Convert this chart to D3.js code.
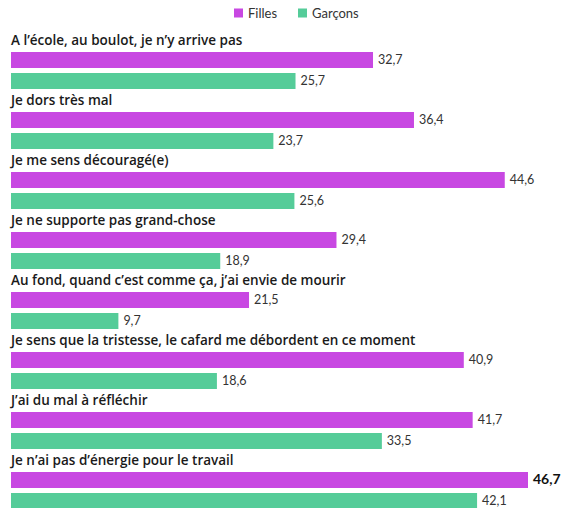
<!DOCTYPE html>
<html><head><meta charset="utf-8">
<script src="https://cdn.jsdelivr.net/npm/d3@7"></script>
<style>body{margin:0;background:#fff}svg{display:block}</style>
</head><body>
<svg id="c" width="563" height="508"></svg>
<script>
const categories = [
  "A l\u2019école, au boulot, je n\u2019y arrive pas",
  "Je dors très mal",
  "Je me sens découragé(e)",
  "Je ne supporte pas grand-chose",
  "Au fond, quand c\u2019est comme ça, j\u2019ai envie de mourir",
  "Je sens que la tristesse, le cafard me débordent en ce moment",
  "J\u2019ai du mal à réfléchir",
  "Je n\u2019ai pas d\u2019énergie pour le travail"
];
const filles = [32.7, 36.4, 44.6, 29.4, 21.5, 40.9, 41.7, 46.7];
const garcons = [25.7, 23.7, 25.6, 18.9, 9.7, 18.6, 33.5, 42.1];
const seriesNames = ["Filles", "Garçons"];
const colors = ["#c848e2", "#55cc99"];

const svg = d3.select("#c");
const fmt = v => d3.format(".1f")(v).replace(".", ",");

const x = d3.scaleLinear().domain([0, 46.7]).range([11, 528]);
const y = d3.scaleBand().domain(d3.range(categories.length)).range([40, 520]).paddingInner(0).paddingOuter(0);
const barH = 16;

// legend
const leg = svg.append("g").attr("font-family", "Lato, 'Open Sans', sans-serif").attr("font-size", 13).attr("fill", "#333");
const legX = [234, 298];
seriesNames.forEach((n, i) => {
  leg.append("rect").attr("x", legX[i]).attr("y", 8.5).attr("width", 9).attr("height", 9).attr("fill", colors[i]);
  leg.append("text").attr("x", legX[i] + 14).attr("y", 17.5).text(n);
});

const rows = svg.selectAll("g.row").data(categories).join("g").attr("class", "row")
  .attr("transform", (d, i) => `translate(0,${y(i)})`);

rows.append("text").attr("x", 11).attr("y", 4.8)
  .attr("font-family", "'Open Sans', sans-serif").attr("font-weight", 600)
  .attr("font-size", 13.5).attr("fill", "#1a1a1a").text(d => d);

[filles, garcons].forEach((vals, s) => {
  const off = s === 0 ? 12 : 33;
  rows.append("rect").attr("x", x(0)).attr("y", off)
    .attr("width", (d, i) => x(vals[i]) - x(0)).attr("height", barH).attr("fill", colors[s]);
  rows.append("text")
    .attr("x", (d, i) => x(vals[i]) + 5).attr("y", off + barH / 2 + 4)
    .attr("font-family", "Lato, 'Open Sans', sans-serif")
    .attr("font-size", (d, i) => (s === 0 && i === categories.length - 1) ? 14 : 12.5)
    .attr("font-weight", (d, i) => (s === 0 && i === categories.length - 1) ? 700 : 400)
    .attr("fill", (d, i) => (s === 0 && i === categories.length - 1) ? "#111" : "#333")
    .text((d, i) => fmt(vals[i]));
});
</script>
</body></html>
